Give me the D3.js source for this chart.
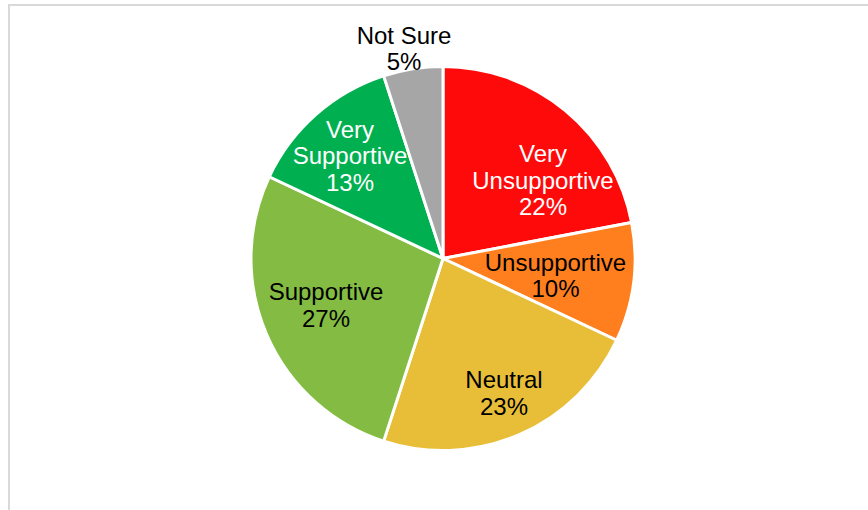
<!DOCTYPE html>
<html>
<head>
<meta charset="utf-8">
<script src="https://cdn.jsdelivr.net/npm/d3@7"></script>
<style>
  html, body { margin: 0; padding: 0; background: #fff; }
  svg { display: block; }
  text { font-family: "Liberation Sans", Arial, sans-serif; }
</style>
</head>
<body>
<svg id="chart" width="868" height="510"></svg>
<script>
// Data
const categories = ["Very Unsupportive", "Unsupportive", "Neutral", "Supportive", "Very Supportive", "Not Sure"];
const values = [22, 10, 23, 27, 13, 5];
const labelLines = [["Very", "Unsupportive", "22%"], ["Unsupportive", "10%"], ["Neutral", "23%"], ["Supportive", "27%"], ["Very", "Supportive", "13%"], ["Not Sure", "5%"]];
const colors = ["#FF0A0A", "#FF7F1E", "#E8BE38", "#84BC43", "#00B050", "#A6A6A6"];
const labelColors = ["#FFFFFF", "#000000", "#000000", "#000000", "#FFFFFF", "#000000"];
// label anchor: x center, first-line baseline (layout, not data)
const labelPos = [[543, 162], [555.5, 270.5], [504, 388], [326, 300], [350, 137.5], [404, 43.5]];

const svg = d3.select("#chart");
const W = 868, H = 510;
const cx = 443, cy = 258.5, R = 192;

// frame
svg.append("path")
  .attr("d", `M9,${H + 5} V5 H${W + 5}`)
  .attr("fill", "none")
  .attr("stroke", "#D9D9D9")
  .attr("stroke-width", 2);

const data = categories.map((c, i) => ({ cat: c, value: values[i], i }));
const pie = d3.pie().value(d => d.value).sort(null).startAngle(0).endAngle(2 * Math.PI);
const arc = d3.arc().innerRadius(0).outerRadius(R);
const color = d3.scaleOrdinal().domain(categories).range(colors);

const g = svg.append("g").attr("transform", `translate(${cx},${cy})`);
g.selectAll("path.slice")
  .data(pie(data))
  .join("path")
  .attr("class", "slice")
  .attr("d", arc)
  .attr("fill", d => color(d.data.cat))
  .attr("stroke", "#FFFFFF")
  .attr("stroke-width", 3)
  .attr("stroke-linejoin", "round");

const lineH = 26.7;
data.forEach((d, i) => {
  const t = svg.append("text")
    .attr("text-anchor", "middle")
    .attr("font-size", 24)
    .attr("fill", labelColors[i]);
  labelLines[i].forEach((ln, j) => {
    t.append("tspan")
      .attr("x", labelPos[i][0])
      .attr("y", labelPos[i][1] + j * lineH)
      .text(ln);
  });
});
</script>
</body>
</html>
